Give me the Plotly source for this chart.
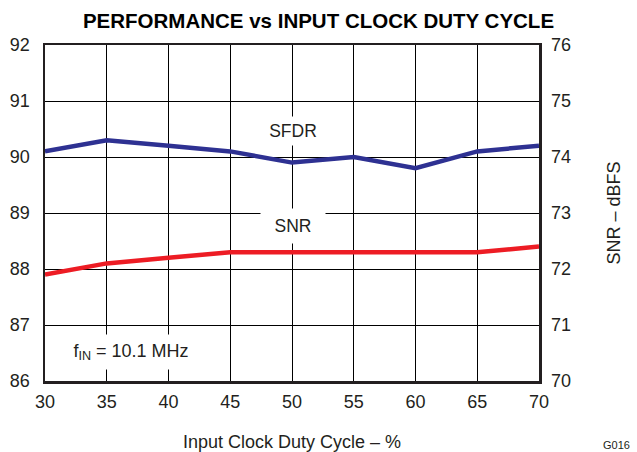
import plotly.graph_objects as go

duty_cycle = [30, 35, 40, 45, 50, 55, 60, 65, 70]
sfdr_dbc = [90.1, 90.3, 90.2, 90.1, 89.9, 90.0, 89.8, 90.1, 90.2]
snr_dbfs = [71.9, 72.1, 72.2, 72.3, 72.3, 72.3, 72.3, 72.3, 72.4]
x_ticks = [30, 35, 40, 45, 50, 55, 60, 65, 70]
left_ticks = [86, 87, 88, 89, 90, 91, 92]
right_ticks = [70, 71, 72, 73, 74, 75, 76]

FONT = "Liberation Sans, Arial, sans-serif"
TXT = "#231f20"

fig = go.Figure()
fig.add_trace(go.Scatter(x=duty_cycle, y=sfdr_dbc, mode="lines",
                         line=dict(color="#2e3192", width=4.5), yaxis="y",
                         showlegend=False, hoverinfo="skip"))
fig.add_trace(go.Scatter(x=duty_cycle, y=snr_dbfs, mode="lines",
                         line=dict(color="#ed1c24", width=4.5), yaxis="y2",
                         showlegend=False, hoverinfo="skip"))

fig.update_layout(
    width=637, height=452,
    margin=dict(l=45, r=98, t=45, b=71, autoexpand=False),
    paper_bgcolor="white", plot_bgcolor="white",
    font=dict(family=FONT, size=18, color=TXT),
    title=dict(text="<b>PERFORMANCE vs INPUT CLOCK DUTY CYCLE</b>",
               x=0.5, xanchor="center", xref="container",
               y=0.969, yanchor="top", yref="container",
               font=dict(family=FONT, size=20.5, color="#000000")),
    xaxis=dict(range=[30, 70], tickvals=x_ticks, ticktext=[str(v) for v in x_ticks],
               showgrid=True, gridcolor="#000000", gridwidth=1,
               showline=True, linecolor=TXT, linewidth=2.5, mirror=True,
               ticks="", zeroline=False, ticklabelstandoff=3, automargin=False,
               tickfont=dict(size=18),
               title=dict(text="Input Clock Duty Cycle – %", standoff=28,
                          font=dict(size=18))),
    yaxis=dict(range=[86, 92], tickvals=left_ticks, showgrid=True,
               gridcolor="#000000", gridwidth=1, showline=True,
               linecolor=TXT, linewidth=2.5, mirror=True, ticks="",
               zeroline=False, ticklabelstandoff=9, automargin=False,
               tickfont=dict(size=18)),
    yaxis2=dict(range=[70, 76], tickvals=right_ticks, overlaying="y", side="right",
                showgrid=False, showline=False, ticks="", zeroline=False,
                ticklabelstandoff=11, automargin=False, tickfont=dict(size=18),
                title=dict(text="SNR – dBFS", standoff=37, font=dict(size=18))),
)

fig.add_annotation(x=50.1, y=90.46, xref="x", yref="y", text="SFDR", showarrow=False,
                   bgcolor="white", font=dict(size=17.5), width=62, height=28,
                   borderpad=0)
fig.add_annotation(x=50.1, y=72.77, xref="x", yref="y2", text="SNR", showarrow=False,
                   bgcolor="white", font=dict(size=17.5), width=64, height=34,
                   borderpad=0)
fig.add_annotation(x=37.0, y=86.52, xref="x", yref="y",
                   text="f<sub>IN</sub> = 10.1 MHz", showarrow=False,
                   bgcolor="white", font=dict(size=18), width=136, height=34,
                   borderpad=0)
fig.add_annotation(x=1.0, y=0, xref="paper", yref="paper", xanchor="right",
                   yanchor="bottom", text="G016", showarrow=False,
                   font=dict(size=11), xshift=98 - 6, yshift=-71,
                   borderpad=0)

fig.write_html("out.html",
               config={"displayModeBar": False, "staticPlot": True},
               post_script="document.body.style.margin='0';"
                           "document.documentElement.style.overflow='hidden';")
